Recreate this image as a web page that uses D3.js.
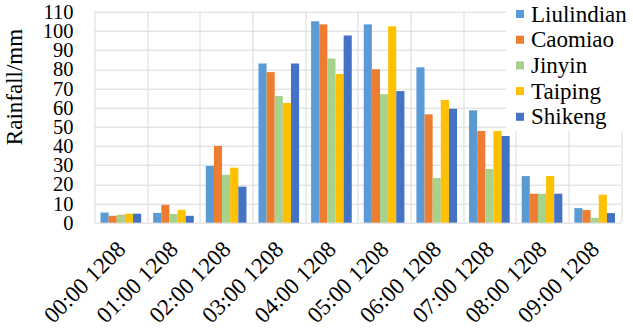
<!DOCTYPE html>
<html>
<head>
<meta charset="utf-8">
<script src="https://cdn.jsdelivr.net/npm/d3@7"></script>
<style>
  body { margin: 0; background: #fff; }
  svg { display: block; }
</style>
</head>
<body>
<div id="chart"></div>
<script>
var width = 633, height = 330;
var margin = { top: 11.7, right: 12, bottom: 107.3, left: 94.5 };

var hours = ["00:00 1208", "01:00 1208", "02:00 1208", "03:00 1208", "04:00 1208",
             "05:00 1208", "06:00 1208", "07:00 1208", "08:00 1208", "09:00 1208"];

var stations = ["Liulindian", "Caomiao", "Jinyin", "Taiping", "Shikeng"];
var colors = ["#5b9bd5", "#ed7d31", "#a9d18e", "#ffc000", "#4472c4"];

// rainfall (mm) per station, one value per hour
var liulindian = [5.3, 5.1, 29.6, 83.0, 105.0, 103.4, 81.0, 58.6, 24.3, 7.6];
var caomiao    = [3.6, 9.3, 40.0, 78.5, 103.4, 80.0, 56.5, 47.8, 15.1, 6.6];
var jinyin     = [4.2, 4.6, 25.0, 66.0, 85.6, 67.0, 23.3, 28.0, 15.1, 2.5];
var taiping    = [4.7, 6.7, 28.7, 62.4, 77.5, 102.4, 64.0, 47.8, 24.3, 14.6];
var shikeng    = [4.7, 3.6, 18.8, 83.0, 97.6, 68.6, 59.4, 45.2, 15.1, 5.0];

var yTicks = [0, 10, 20, 30, 40, 50, 60, 70, 80, 90, 100, 110];

var series = [liulindian, caomiao, jinyin, taiping, shikeng];

var serif = "'Liberation Serif'";

var svg = d3.select("#chart").append("svg")
	.attr("width", width)
	.attr("height", height);

svg.append("rect").attr("width", width).attr("height", height).attr("fill", "#fff");

var plotW = width - margin.left - margin.right;
var plotH = height - margin.top - margin.bottom;

var x0 = d3.scaleBand().domain(hours).range([0, plotW]).paddingInner(0).paddingOuter(0);
var x1 = d3.scaleBand().domain(stations).range([6, x0.bandwidth() - 6]);
var y = d3.scaleLinear().domain([0, 110]).range([plotH, 0]);

var g = svg.append("g").attr("transform", "translate(" + margin.left + "," + margin.top + ")");

//* GRID
g.selectAll(".hgrid").data(yTicks).enter().append("line")
	.attr("x1", 0).attr("x2", plotW)
	.attr("y1", function(d){ return Math.round(y(d)) + 0.5; })
	.attr("y2", function(d){ return Math.round(y(d)) + 0.5; })
	.attr("stroke", "#d9d9d9").attr("stroke-width", 1);

var vlines = hours.map(function(h){ return x0(h); }).concat([plotW]);
g.selectAll(".vgrid").data(vlines).enter().append("line")
	.attr("x1", function(d){ return Math.round(d) + 0.5; })
	.attr("x2", function(d){ return Math.round(d) + 0.5; })
	.attr("y1", 0).attr("y2", plotH)
	.attr("stroke", "#d9d9d9").attr("stroke-width", 1);

//* BARS
series.forEach(function(values, s){
	g.selectAll(".bar" + s).data(values).enter().append("rect")
		.attr("x", function(d, i){ return x0(hours[i]) + x1(stations[s]); })
		.attr("y", function(d){ return y(d); })
		.attr("width", x1.bandwidth())
		.attr("height", function(d){ return plotH - y(d); })
		.attr("fill", colors[s]);
});

//* Y TICKS
g.selectAll(".ytick").data(yTicks).enter().append("text")
	.attr("x", -21)
	.attr("y", function(d){ return y(d); })
	.attr("dy", "0.35em")
	.attr("text-anchor", "end")
	.style("font-family", serif)
	.style("font-size", "20.5px")
	.style("fill", "#000")
	.text(function(d){ return d; });

//* X LABELS
g.selectAll(".xlabel").data(hours).enter().append("text")
	.attr("transform", function(d){
		var cx = x0(d) + x0.bandwidth() / 2 + 6;
		return "translate(" + cx + "," + (plotH + 28) + ") rotate(-45)";
	})
	.attr("text-anchor", "end")
	.style("font-family", serif)
	.style("font-size", "23px")
	.style("fill", "#000")
	.text(function(d){ return d; });

//* Y TITLE
svg.append("text")
	.attr("transform", "translate(22," + 87 + ") rotate(-90)")
	.attr("text-anchor", "middle")
	.style("font-family", serif)
	.style("font-size", "23px")
	.style("fill", "#000")
	.text("Rainfall/mm");

//* LEGEND
var legend = svg.append("g").attr("transform", "translate(506,0)");
legend.append("rect").attr("x", 0).attr("y", 0).attr("width", 127).attr("height", 131).attr("fill", "#fff");

var items = legend.selectAll(".item").data(stations).enter().append("g")
	.attr("transform", function(d, i){ return "translate(0," + (14 + i * 25.7) + ")"; });

items.append("rect")
	.attr("x", 10).attr("y", -4).attr("width", 8).attr("height", 8)
	.attr("fill", function(d, i){ return colors[i]; });

items.append("text")
	.attr("x", 25).attr("y", 0)
	.attr("dy", "0.33em")
	.style("font-family", serif)
	.style("font-size", "23px")
	.style("fill", "#000")
	.text(function(d){ return d; });
</script>
</body>
</html>
